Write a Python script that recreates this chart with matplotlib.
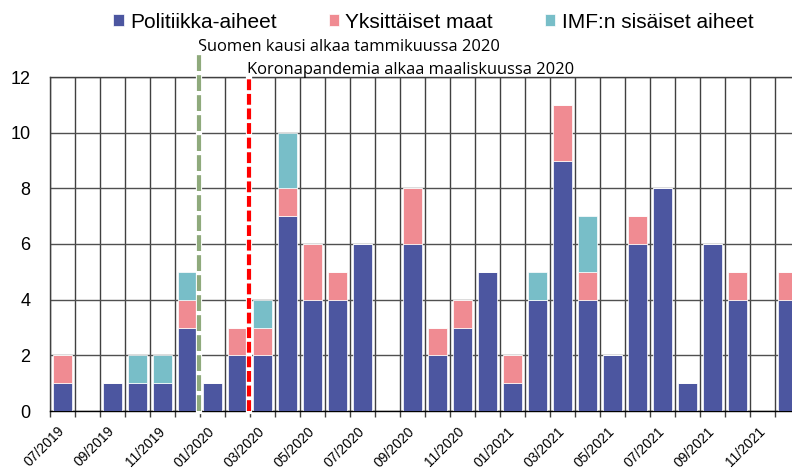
import matplotlib.pyplot as plt
import matplotlib.transforms as mtransforms
import numpy as np

months = ["07/2019", "08/2019", "09/2019", "10/2019", "11/2019", "12/2019",
          "01/2020", "02/2020", "03/2020", "04/2020", "05/2020", "06/2020",
          "07/2020", "08/2020", "09/2020", "10/2020", "11/2020", "12/2020",
          "01/2021", "02/2021", "03/2021", "04/2021", "05/2021", "06/2021",
          "07/2021", "08/2021", "09/2021", "10/2021", "11/2021", "12/2021"]
politiikka = [1, 0, 1, 1, 1, 3, 1, 2, 2, 7, 4, 4, 6, 0, 6, 2, 3, 5,
              1, 4, 9, 4, 2, 6, 8, 1, 6, 4, 0, 4]
maat = [1, 0, 0, 0, 0, 1, 0, 1, 1, 1, 2, 1, 0, 0, 2, 1, 1, 0,
        1, 0, 2, 1, 0, 1, 0, 0, 0, 1, 0, 1]
sisaiset = [0, 0, 0, 1, 1, 1, 0, 0, 1, 2, 0, 0, 0, 0, 0, 0, 0, 0,
            0, 1, 0, 2, 0, 0, 0, 0, 0, 0, 0, 0]
labels = ["Politiikka-aiheet", "Yksittäiset maat", "IMF:n sisäiset aiheet"]
colors = ["#4c56a0", "#f08b92", "#78bec8"]

x = np.arange(len(months))
p = np.array(politiikka)
m = np.array(maat)
s = np.array(sisaiset)

fig = plt.figure(figsize=(7.92, 4.70), dpi=100)
ax = fig.add_axes([50/792, 59/470, 750/792, 334/470])

ax.bar(x, p, 0.76, color=colors[0], edgecolor="white", linewidth=0.5, label=labels[0], zorder=3)
ax.bar(x, m, 0.76, bottom=p, color=colors[1], edgecolor="white", linewidth=0.5, label=labels[1], zorder=3)
ax.bar(x, s, 0.76, bottom=p + m, color=colors[2], edgecolor="white", linewidth=0.5, label=labels[2], zorder=3)

ax.set_xlim(-0.5, len(months) - 0.5)
ax.set_ylim(0, 12)
ax.set_yticks(np.arange(0, 13, 2))
ax.tick_params(axis="y", length=0, pad=14, labelsize=13)
for t in ax.get_yticklabels():
    t.set_family("Liberation Sans")

ax.set_xticks(x[::2])
ax.set_xticklabels(months[::2], rotation=45, ha="right", va="center",
                   rotation_mode="anchor", family="Liberation Sans", fontsize=10)
shift = mtransforms.ScaledTranslation(3/72, 0, fig.dpi_scale_trans)
for t in ax.get_xticklabels():
    t.set_transform(t.get_transform() + shift)
ax.set_xticks(np.arange(-0.5, len(months), 1), minor=True)
ax.tick_params(axis="x", which="major", length=0, pad=13)
ax.tick_params(axis="x", which="minor", length=4, width=1, color="#404040")

ax.grid(axis="x", which="minor", color="#404040", linewidth=1.0, zorder=1)
ax.grid(axis="y", which="major", color="#505050", linewidth=1.0, zorder=1)
ax.set_axisbelow(True)
for side in ["left", "top", "right"]:
    ax.spines[side].set_color("#404040")
    ax.spines[side].set_linewidth(1.0)
ax.spines["bottom"].set_color("black")
ax.spines["bottom"].set_linewidth(1.0)

# event lines
ax.plot([5.45, 5.45], [0, 12.9], color="white", linewidth=4.5, zorder=4, clip_on=False)
ax.plot([5.45, 5.45], [0, 12.9], color="#8faa7c", linewidth=3.0, dashes=(3.8, 1.0),
        zorder=5, clip_on=False)
ax.plot([7.47, 7.47], [0, 12.05], color="white", linewidth=4.5, zorder=4, clip_on=False)
ax.plot([7.47, 7.47], [0, 12.05], color="#ff0000", linewidth=3.0, dashes=(2.6, 0.9),
        zorder=5, clip_on=False)

ax.text(5.42, 13.08, "Suomen kausi alkaa tammikuussa 2020", family="Open Sans",
        fontsize=11.9, va="center", ha="left", clip_on=False)
ax.text(7.38, 12.25, "Koronapandemia alkaa maaliskuussa 2020", family="Open Sans",
        fontsize=11.9, va="center", ha="left", clip_on=False)

fig.legend(loc="center", bbox_to_anchor=(0.547, 0.953), ncol=3, frameon=False,
           prop={"family": "Liberation Sans", "size": 15},
           handlelength=0.5, handleheight=0.5, handletextpad=0.3, columnspacing=2.5)

fig.savefig("out.png", dpi=100)
